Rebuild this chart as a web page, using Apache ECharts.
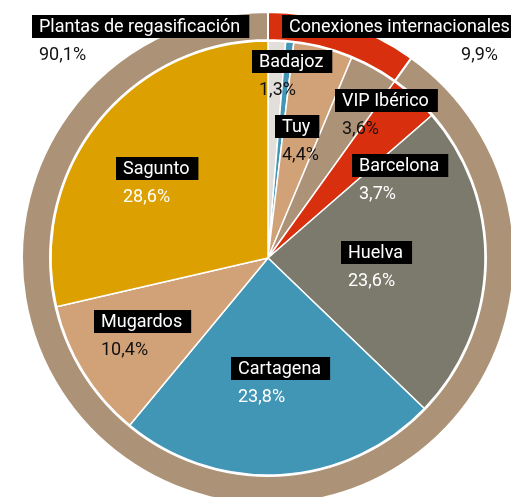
<!DOCTYPE html>
<html>
<head>
<meta charset="utf-8">
<script src="https://cdn.jsdelivr.net/npm/echarts@6/dist/echarts.min.js"></script>
<style>
  html, body { margin: 0; padding: 0; background: #ffffff; }
  #chart { width: 511px; height: 497px; }
</style>
</head>
<body>
<div id="chart"></div>
<script>
// Outer ring: share of capacity by entry type, clockwise from the top
const outerNames = ['Conexiones internacionales', 'Plantas de regasificación'];
const outerValues = [9.9, 90.1];
const outerColors = ['#d8300f', '#ac9277'];

// Inner pie: individual entry points, clockwise from the top
const innerNames = ['Badajoz', 'Otras conexiones', 'Tuy', 'VIP Ibérico', 'Barcelona', 'Huelva', 'Cartagena', 'Mugardos', 'Sagunto'];
const innerValues = [1.3, 0.6, 4.4, 3.6, 3.7, 23.6, 23.8, 10.4, 28.6];
const innerColors = ['#e2dfdb', '#4195b5', '#d1a178', '#ac9277', '#d8300f', '#7b7a6c', '#4195b5', '#d1a178', '#dca000'];
const innerLabelled = [true, false, true, true, true, true, true, true, true];

// Label placement: [box left, box top, value colour, value alignment]
const outerLabelPos = [[282, 15, '#111', 'right'], [32, 15, '#111', 'left']];
const innerLabelPos = [
  [252, 50, '#111'], null, [275, 115, '#111'], [335, 89, '#111'], [352, 154, '#ffffff'],
  [341, 241, '#ffffff'], [231, 357, '#ffffff'], [94, 310, '#111'], [116, 157, '#ffffff']
];

const FONT = '18px Roboto, "Noto Sans", sans-serif';
const fmt = v => v.toFixed(1).replace('.', ',') + '%';

function labelGraphics(name, value, pos, valueRightX) {
  const [x, y, valueColor, align] = pos;
  const items = [{
    type: 'text', x: x, y: y, z: 10,
    style: {
      text: name, font: FONT, fill: '#ffffff',
      backgroundColor: '#000000', padding: [3, 9, 2, 7],
      align: 'left', verticalAlign: 'top'
    }
  }];
  items.push({
    type: 'text', z: 10,
    x: align === 'right' ? valueRightX : x + 7, y: y + 31,
    style: {
      text: fmt(value), font: FONT, fill: valueColor,
      align: align === 'right' ? 'right' : 'left', verticalAlign: 'top'
    }
  });
  return items;
}

const graphics = [];
outerNames.forEach((n, i) => {
  graphics.push(...labelGraphics(n, outerValues[i], outerLabelPos[i], 498));
});
innerNames.forEach((n, i) => {
  if (innerLabelled[i]) graphics.push(...labelGraphics(n, innerValues[i], innerLabelPos[i]));
});

const chart = echarts.init(document.getElementById('chart'), null, { renderer: 'canvas' });
chart.setOption({
  animation: false,
  backgroundColor: '#ffffff',
  series: [
    {
      type: 'pie',
      center: [268, 258],
      radius: [218, 246],
      startAngle: 90,
      clockwise: true,
      label: { show: false },
      labelLine: { show: false },
      itemStyle: { borderColor: '#ffffff', borderWidth: 2 },
      emphasis: { disabled: true },
      data: outerNames.map((n, i) => ({ name: n, value: outerValues[i], itemStyle: { color: outerColors[i] } }))
    },
    {
      type: 'pie',
      center: [268, 258],
      radius: [0, 217],
      startAngle: 90,
      clockwise: true,
      label: { show: false },
      labelLine: { show: false },
      itemStyle: { borderColor: '#ffffff', borderWidth: 1.5 },
      emphasis: { disabled: true },
      data: innerNames.map((n, i) => ({ name: n, value: innerValues[i], itemStyle: { color: innerColors[i] } }))
    }
  ],
  graphic: graphics
});
</script>
</body>
</html>
